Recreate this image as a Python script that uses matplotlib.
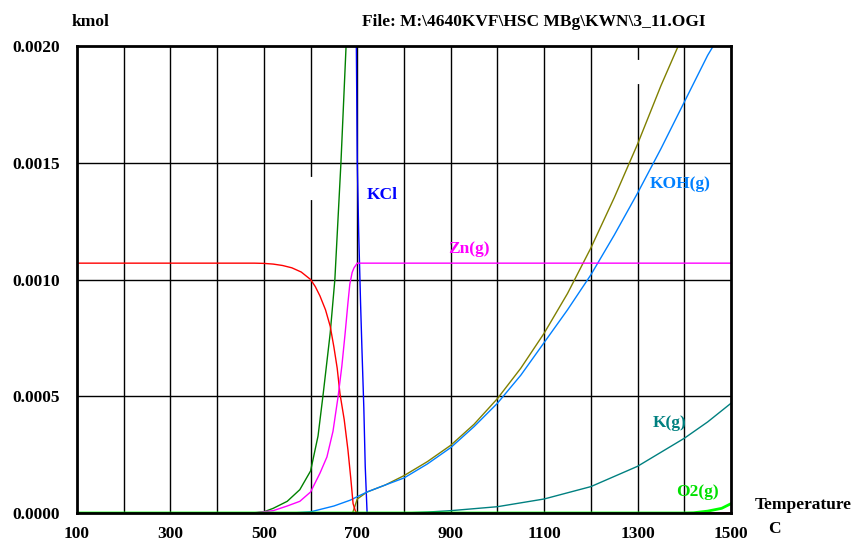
import numpy as np
import matplotlib
matplotlib.use("Agg")
import matplotlib.pyplot as plt

# equilibrium amounts vs temperature (kmol), read per species
t_red = [100, 300, 480, 500, 520, 540, 560, 580, 600, 610, 620, 632, 642, 650, 657, 663,
         672, 680, 686, 691, 696, 700, 1500]
y_red = [0.00107, 0.00107, 0.00107, 0.001069, 0.001066, 0.00106, 0.00105, 0.001032, 0.001,
         0.00097, 0.00093, 0.00087, 0.0008, 0.00071, 0.00062, 0.00051, 0.0004,
         0.00027, 0.00015, 0.00004, 0.000008, 0.0, 0.0]

t_dkgreen = [100, 480, 500, 520, 550, 577, 600, 616, 627, 642, 652, 665, 676, 690, 1500]
y_dkgreen = [0.0, 0.0, 0.000005, 0.00002, 0.00005, 0.0001, 0.00018, 0.00033, 0.00051, 0.00077,
             0.001, 0.0015, 0.002, 0.0028, 0.0028]

t_zng = [100, 475, 520, 550, 577, 600, 620, 635, 648, 659, 667, 674, 680, 684, 689, 693, 700, 706, 1500]
y_zng = [0.0, 0.0, 0.00001, 0.00003, 0.00005, 0.00009, 0.00017, 0.00024, 0.00035, 0.0005, 0.00063,
         0.00077, 0.0009, 0.00098, 0.00103, 0.00105, 0.00107, 0.00107, 0.00107]

t_kcl = [100, 696, 698, 700, 703, 707, 710, 714, 717, 721, 1500]
y_kcl = [0.01, 0.0025, 0.002, 0.0015, 0.0012, 0.0009, 0.0007, 0.00045, 0.0002, 0.0, 0.0]

t_koh = [100, 560, 600, 650, 685, 700, 721, 760, 800, 850, 900, 950, 1000, 1050, 1100, 1150, 1200,
         1250, 1300, 1350, 1400, 1450, 1462, 1500]
y_koh = [0.0, 0.0, 0.000005, 0.00003, 0.000055, 0.00007, 0.00009, 0.00012, 0.00015, 0.00021, 0.00028,
         0.00037, 0.00047, 0.00059, 0.00073, 0.00087, 0.00102, 0.00119, 0.00137, 0.00156, 0.00176,
         0.00196, 0.002, 0.00215]

t_olive = [100, 690, 700, 721, 760, 800, 850, 900, 950, 1000, 1050, 1100, 1150, 1200, 1250, 1300,
           1350, 1387, 1450]
y_olive = [0.0, 0.0, 0.00006, 0.00009, 0.00012, 0.00016, 0.00022, 0.00029, 0.00038, 0.00049, 0.00062,
           0.00077, 0.00094, 0.001135, 0.00135, 0.00158, 0.00183, 0.002, 0.0023]

t_kg = [100, 800, 850, 900, 1000, 1100, 1200, 1300, 1400, 1450, 1500]
y_kg = [0.0, 0.0, 0.000004, 0.00001, 0.000027, 0.00006, 0.000113, 0.0002, 0.00032, 0.00039, 0.00047]

t_o2 = [100, 1400, 1420, 1450, 1480, 1500]
y_o2 = [0.0, 0.0, 0.000001, 0.000008, 0.00002, 0.00004]

# name, x, y, colour for the in-plot labels
labels = [("KCl", 720, 0.00136, "#0000FF"),
          ("Zn(g)", 895, 0.00113, "#FF00FF"),
          ("KOH(g)", 1325, 0.00141, "#0080FF"),
          ("K(g)", 1333, 0.000385, "#008080"),
          ("O2(g)", 1383, 0.00009, "#00E000")]

xticks = [100, 300, 500, 700, 900, 1100, 1300, 1500]
yticks = [0.0, 0.0005, 0.001, 0.0015, 0.002]

plt.rcParams["font.family"] = ["Liberation Serif", "DejaVu Serif"]
plt.rcParams["font.weight"] = "bold"
fs = 12.5

fig = plt.figure(figsize=(8.51, 5.43), dpi=100)
ax = fig.add_axes([77 / 851, 1 - 513 / 543, (731 - 77) / 851, (513 - 46) / 543])

ax.set_xlim(100, 1500)
ax.set_ylim(0, 0.002)

# grid every 100 C and every 0.0005 kmol
for x in range(200, 1500, 100):
    ax.axvline(x, color="black", lw=1.0, zorder=1)
for y in [0.0005, 0.001, 0.0015]:
    ax.axhline(y, color="black", lw=1.0, zorder=1)
# blank spots left in the grid by hidden labels
ax.plot([600, 600], [0.001349, 0.00143], color="white", lw=3, zorder=1.5)
ax.plot([1300, 1300], [0.001846, 0.001931], color="white", lw=3, zorder=1.5)

lw = 1.0
ax.plot(t_kcl, y_kcl, color="#0000FF", lw=lw, zorder=3)
ax.plot(t_kg, y_kg, color="#008080", lw=lw, zorder=3)
ax.plot(t_dkgreen, y_dkgreen, color="#008000", lw=lw, zorder=3)
ax.plot(t_olive, y_olive, color="#808000", lw=lw, zorder=3)
ax.plot(t_koh, y_koh, color="#0080FF", lw=lw, zorder=3)
ax.plot(t_red, y_red, color="#FF0000", lw=lw, zorder=3)
ax.plot(t_zng, y_zng, color="#FF00FF", lw=lw, zorder=3)
ax.plot(t_o2, y_o2, color="#00FF00", lw=2.0, zorder=4)

for name, x, y, c in labels:
    ax.text(x, y, name, color=c, fontsize=fs, fontweight="bold", va="center", ha="left", zorder=5)

ax.set_xticks(xticks)
ax.set_xticklabels([str(t) for t in xticks])
ax.set_yticks(yticks)
ax.set_yticklabels(["%.4f" % v for v in yticks])
ax.tick_params(length=0, labelsize=fs)
ax.tick_params(axis="y", pad=12)
ax.tick_params(axis="x", pad=9)
for s in ax.spines.values():
    s.set_linewidth(2.0)
    s.set_color("black")
    s.set_zorder(6)

fig.text(72 / 851, 1 - 22 / 543, "kmol", fontsize=fs, fontweight="bold", va="center", ha="left")
fig.text(362 / 851, 1 - 22 / 543, "File: M:\\4640KVF\\HSC MBg\\KWN\\3_11.OGI",
         fontsize=fs, fontweight="bold", va="center", ha="left")
fig.text(755 / 851, 1 - 505 / 543, "Temperature", fontsize=fs, fontweight="bold", va="center", ha="left")
fig.text(768 / 851, 1 - 529 / 543, "C", fontsize=fs, fontweight="bold", va="center", ha="left")

fig.savefig("out.png", dpi=100)
